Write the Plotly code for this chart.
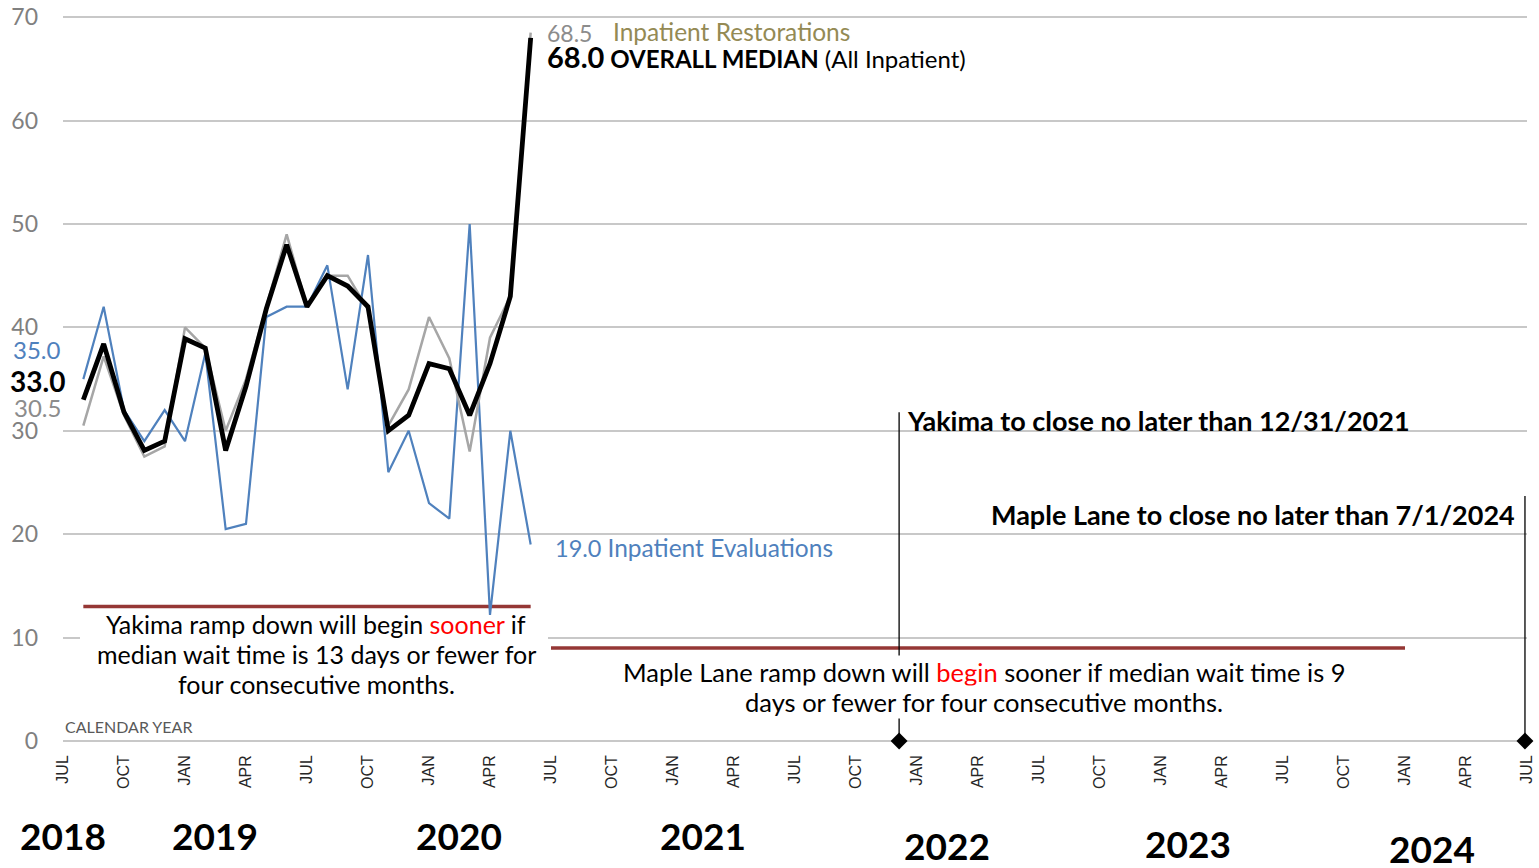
import plotly.graph_objects as go

# ---------------- data ----------------
month_labels = ["2018-08", "2018-09", "2018-10", "2018-11", "2018-12",
                "2019-01", "2019-02", "2019-03", "2019-04", "2019-05", "2019-06",
                "2019-07", "2019-08", "2019-09", "2019-10", "2019-11", "2019-12",
                "2020-01", "2020-02", "2020-03", "2020-04", "2020-05", "2020-06"]
overall_median = [33.0, 38.4, 31.8, 28.1, 29.0, 38.9, 38.0, 28.1, 34.3, 41.8, 48.0,
                  42.0, 45.0, 44.0, 42.0, 30.0, 31.5, 36.5, 36.0, 31.5, 36.5, 43.0, 68.0]
restorations = [30.5, 37.2, 31.5, 27.5, 28.5, 40.0, 38.0, 30.0, 35.0, 42.0, 49.0,
                42.0, 45.0, 45.0, 41.7, 30.5, 34.0, 41.0, 37.0, 28.0, 39.0, 43.0, 68.5]
evaluations = [35.0, 42.0, 32.0, 29.0, 32.0, 29.0, 37.5, 20.5, 21.0, 41.0, 42.0,
               42.0, 46.0, 34.0, 47.0, 26.0, 30.0, 23.0, 21.5, 50.0, 12.2, 30.0, 19.0]

tick_months = ["JUL", "OCT", "JAN", "APR"]
year_labels = ["2018", "2019", "2020", "2021", "2022", "2023", "2024"]

yakima_threshold = 13
yakima_threshold_span = ["2018-08", "2020-06"]
maple_threshold = 9
maple_threshold_span = ["2020-07", "2024-01"]

yakima_close = "2021-12"
maple_close = "2024-07"

yakima_note = ["Yakima ramp down will begin <span style='color:red'>sooner</span> if",
               "median wait time is 13 days or fewer for",
               "four consecutive months."]
maple_note = ["Maple Lane ramp down will <span style='color:red'>begin</span> sooner if median wait time is 9",
              "days or fewer for four consecutive months."]

START = (2018, 7)


def midx(s):
    y, m = map(int, s.split("-"))
    return (y - START[0]) * 12 + (m - START[1])


x = [midx(m) for m in month_labels]

FONT = "Lato"
BLUE = "#4F81BD"
GRAY = "#A6A6A6"
DRED = "#953735"


def Y(py):
    return (741 - py) / 10.343


def X(px):
    return (px - 63) / 20.333


fig = go.Figure()

# white patch behind the Yakima note (hides gridline, stays under the data)
fig.add_shape(type="rect", xref="x", yref="y", x0=X(80), x1=X(548), y0=Y(700), y1=Y(618),
              fillcolor="white", line=dict(width=0), layer="between")

# threshold lines
fig.add_trace(go.Scatter(x=[midx(s) for s in yakima_threshold_span], y=[yakima_threshold] * 2,
                         mode="lines", line=dict(color=DRED, width=3.5), hoverinfo="skip"))
fig.add_trace(go.Scatter(x=[midx(s) for s in maple_threshold_span], y=[maple_threshold] * 2,
                         mode="lines", line=dict(color=DRED, width=3.5), hoverinfo="skip"))

# closure lines
yk_x = midx(yakima_close) + 0.12
ml_x = midx(maple_close) - 0.1
fig.add_trace(go.Scatter(x=[yk_x, yk_x], y=[0, 31.8], mode="lines",
                         line=dict(color="black", width=1.3), hoverinfo="skip"))
fig.add_trace(go.Scatter(x=[ml_x, ml_x], y=[0, 23.7], mode="lines",
                         line=dict(color="black", width=1.3), hoverinfo="skip"))
fig.add_trace(go.Scatter(x=[yk_x, ml_x], y=[0, 0], mode="markers",
                         marker=dict(symbol="diamond", size=13, color="black"),
                         cliponaxis=False, hoverinfo="skip"))

# series
fig.add_trace(go.Scatter(x=x, y=evaluations, mode="lines", name="Inpatient Evaluations",
                         line=dict(color=BLUE, width=2.2)))
fig.add_trace(go.Scatter(x=x, y=restorations, mode="lines", name="Inpatient Restorations",
                         line=dict(color=GRAY, width=2.5)))
fig.add_trace(go.Scatter(x=x, y=overall_median, mode="lines", name="Overall Median",
                         line=dict(color="black", width=4.8)))

tickvals = list(range(0, 73, 3))
ticktext = [tick_months[i % 4] for i in range(len(tickvals))]

ann = []
last = x[-1]
first = x[0]


def A(**kw):
    d = dict(showarrow=False, font=dict(family=FONT))
    d.update(kw)
    ann.append(d)


A(x=last, y=68.45, xshift=14, xanchor="left", yanchor="middle", text="68.5",
  font=dict(family=FONT, size=23, color="#8C8C8C"))
A(x=last, y=68.6, xshift=80, xanchor="left", yanchor="middle", text="Inpatient Restorations",
  font=dict(family=FONT, size=24.5, color="#948A54"))
A(x=last, y=66.2, xshift=14, xanchor="left", yanchor="middle",
  text="<b><span style='font-size:29px'>68.0</span> OVERALL MEDIAN</b> (All Inpatient)",
  font=dict(family=FONT, size=24, color="black"))
A(x=last, y=18.76, xshift=22, xanchor="left", yanchor="middle",
  text="19.0 <span style='font-size:24.5px'>Inpatient Evaluations</span>",
  font=dict(family=FONT, size=23.5, color=BLUE))

A(x=first, y=37.9, xshift=-20, xanchor="right", yanchor="middle", text="35.0",
  font=dict(family=FONT, size=24, color=BLUE))
A(x=first, y=34.8, xshift=-16, xanchor="right", yanchor="middle", text="<b>33.0</b>",
  font=dict(family=FONT, size=28, color="black"))
A(x=first, y=32.3, xshift=-20, xanchor="right", yanchor="middle", text="30.5",
  font=dict(family=FONT, size=24, color="#8C8C8C"))

for line, py in zip(yakima_note, [624, 654, 684]):
    A(x=X(316), y=Y(py), xanchor="center", yanchor="middle",
      text=line, font=dict(family=FONT, size=25, color="black"))
for line, py in zip(maple_note, [672, 702]):
    A(x=X(984), y=Y(py), xanchor="center", yanchor="middle", bgcolor="white", borderpad=1,
      text=line, font=dict(family=FONT, size=25.5, color="black"))

A(x=yk_x, y=Y(420), xshift=6, xanchor="left", yanchor="middle",
  text="<b>Yakima to close no later than 12/31/2021</b>",
  font=dict(family=FONT, size=27, color="black"))
A(x=ml_x, y=Y(514), xshift=-8, xanchor="right", yanchor="middle",
  text="<b>Maple Lane to close no later than 7/1/2024</b>",
  font=dict(family=FONT, size=27, color="black"))

A(x=0, y=Y(726), xanchor="left", yanchor="middle", text="CALENDAR YEAR",
  font=dict(family=FONT, size=16, color="#595959"))

year_px = [63, 215, 459, 703, 947, 1188, 1432]
year_py = [836, 836, 836, 836, 845, 843, 848]
for lab, px, py in zip(year_labels, year_px, year_py):
    A(x=X(px), xref="x", y=(741 - py) / 729, yref="paper", xanchor="center", yanchor="middle",
      text=f"<b>{lab}</b>", font=dict(family=FONT, size=37, color="black"))

fig.update_layout(
    width=1539, height=868,
    margin=dict(l=63, r=12, t=12, b=127),
    paper_bgcolor="white", plot_bgcolor="white",
    showlegend=False,
    annotations=ann,
    xaxis=dict(range=[0, 72], tickvals=tickvals, ticktext=ticktext, tickangle=-90,
               showgrid=False, zeroline=False, showline=False, ticks="",
               ticklabelstandoff=10, automargin=False,
               tickfont=dict(family="Liberation Sans", size=16, color="#262626")),
    yaxis=dict(range=[0, 70.5], tickvals=list(range(0, 71, 10)), showgrid=True,
               gridcolor="#C8C8C8", gridwidth=1.5, automargin=False,
               zeroline=True, zerolinecolor="#C8C8C8", zerolinewidth=1.5, showline=False,
               ticks="", ticklabelstandoff=24,
               tickfont=dict(family=FONT, size=23, color="#808080")),
)

fig.write_html("out.html", config={"displayModeBar": False},
               post_script="document.body.style.margin='0';document.body.style.overflow='hidden';")
